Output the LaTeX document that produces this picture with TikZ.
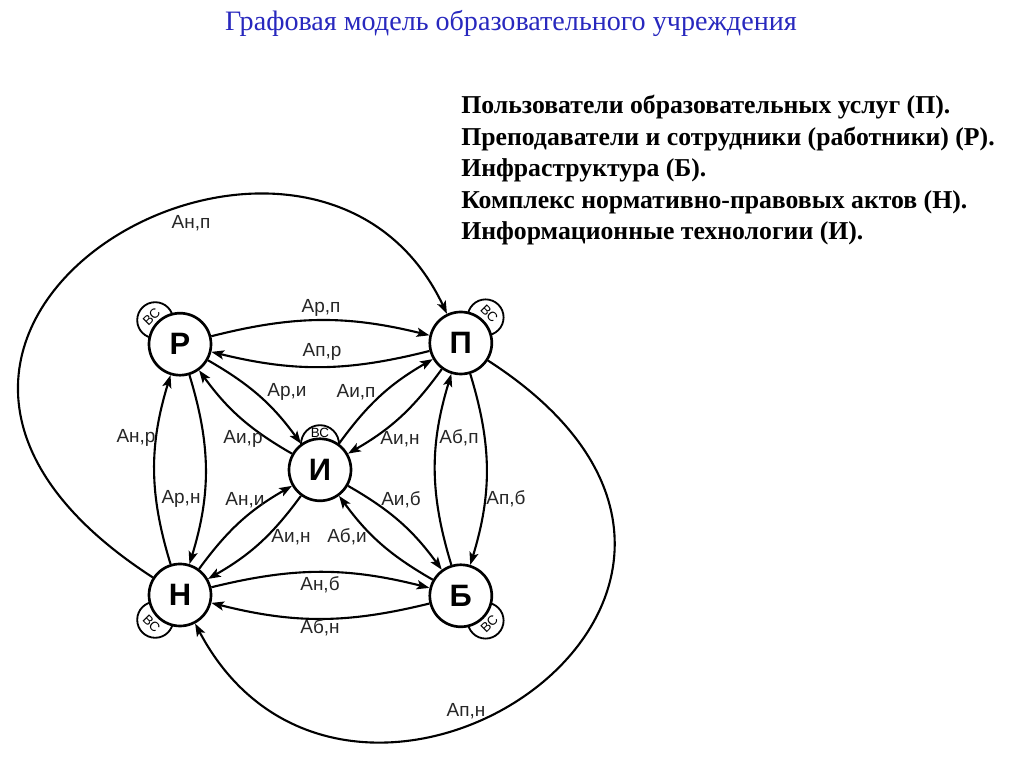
\documentclass[tikz,border=0pt]{standalone}
\usepackage{fontspec}
\setmainfont{Liberation Serif}
\setsansfont{Liberation Sans}
\usetikzlibrary{arrows.meta}
\definecolor{titleblue}{RGB}{40,40,190}

\begin{document}
\begin{tikzpicture}[
  vertex/.style={draw,circle,fill=white,line width=1.9pt,minimum size=1.55cm,inner sep=0pt,font=\sffamily\bfseries\fontsize{22}{22}\selectfont},
  vsbox/.style={draw,circle,fill=white,line width=1.3pt,minimum size=0.9cm,inner sep=0pt},
  vstext/.style={font=\sffamily\fontsize{9.5}{10}\selectfont,inner sep=0pt},
  arc/.style={-{Stealth[length=9pt,width=6.5pt,inset=2pt]},line width=1.5pt},
  lbl/.style={font=\sffamily\fontsize{13.5}{14}\selectfont,text=black!85,inner sep=1pt}]
\useasboundingbox (0,0) rectangle (25.6,19.175);
\node[font=\fontsize{20}{24}\selectfont,text=titleblue,anchor=base] (title) at (12.775,18.4) {Графовая модель образовательного учреждения};
\node[font=\bfseries\fontsize{18.3}{22.4}\selectfont,align=left,anchor=north west,inner sep=0pt] (legend) at (11.525,16.8) {Пользователи образовательных услуг (П).\\Преподаватели и сотрудники (работники) (Р).\\Инфраструктура (Б).\\Комплекс нормативно-правовых актов (Н).\\Информационные технологии (И).};
\node[vsbox] (vr) at (3.88,11.17) {};
\node[vsbox] (vp) at (12.14,11.24) {};
\node[vsbox,minimum size=0.95cm] (vi) at (8,8.07) {};
\node[vsbox] (vn) at (3.88,3.68) {};
\node[vsbox] (vb) at (12.14,3.66) {};
\node[vstext,rotate=45] (tr) at (3.79,11.26) {ВС};
\node[vstext,rotate=-45] (tp) at (12.23,11.33) {ВС};
\node[vstext] (ti) at (8,8.36) {ВС};
\node[vstext,rotate=-45] (tn) at (3.79,3.59) {ВС};
\node[vstext,rotate=45] (tb) at (12.23,3.57) {ВС};
\node[vertex] (nr) at (4.5,10.57) {Р};
\node[vertex] (np) at (11.52,10.6) {П};
\node[vertex] (ni) at (8,7.43) {И};
\node[vertex] (nn) at (4.5,4.3) {Н};
\node[vertex] (nb) at (11.52,4.28) {Б};
\draw[arc] (nr) to[bend left=14] (np);
\draw[arc] (np) to[bend left=14] (nr);
\draw[arc] (nn) to[bend left=14] (nb);
\draw[arc] (nb) to[bend left=14] (nn);
\draw[arc] (nn) to[bend left=17] (nr);
\draw[arc] (nr) to[bend left=17] (nn);
\draw[arc] (np) to[bend left=17] (nb);
\draw[arc] (nb) to[bend left=17] (np);
\draw[arc] (nr) to[bend left=12] (ni);
\draw[arc] (ni) to[bend left=12] (nr);
\draw[arc] (ni) to[bend left=12] (np);
\draw[arc] (np) to[bend left=12] (ni);
\draw[arc] (nn) to[bend left=12] (ni);
\draw[arc] (ni) to[bend left=12] (nn);
\draw[arc] (ni) to[bend left=12] (nb);
\draw[arc] (nb) to[bend left=12] (ni);
\draw[arc] (nn) .. controls (-5.75,10.925) and (7.75,18.55) .. (np);
\draw[arc] (np) .. controls (21.125,4.4) and (8.75,-3.725) .. (nn);
\node[lbl] (lnp) at (4.775,13.6) {Ан,п};
\node[lbl] (lrp) at (8.025,11.475) {Ар,п};
\node[lbl] (lpr) at (8.05,10.375) {Ап,р};
\node[lbl] (lri) at (7.175,9.375) {Ар,и};
\node[lbl] (lip) at (8.9,9.375) {Аи,п};
\node[lbl] (lir) at (6.075,8.2) {Аи,р};
\node[lbl] (lin1) at (10.0,8.2) {Аи,н};
\node[lbl] (lni) at (6.125,6.675) {Ан,и};
\node[lbl] (lib) at (10.025,6.675) {Аи,б};
\node[lbl] (lin2) at (7.275,5.75) {Аи,н};
\node[lbl] (lbi) at (8.675,5.75) {Аб,и};
\node[lbl] (lnr) at (3.4,8.225) {Ан,р};
\node[lbl] (lrn) at (4.525,6.7) {Ар,н};
\node[lbl] (lbp) at (11.475,8.225) {Аб,п};
\node[lbl] (lpb) at (12.65,6.7) {Ап,б};
\node[lbl] (lnb) at (8.0,4.55) {Ан,б};
\node[lbl] (lbn) at (8.0,3.475) {Аб,н};
\node[lbl] (lpn) at (11.65,1.4) {Ап,н};
\end{tikzpicture}
\end{document}
